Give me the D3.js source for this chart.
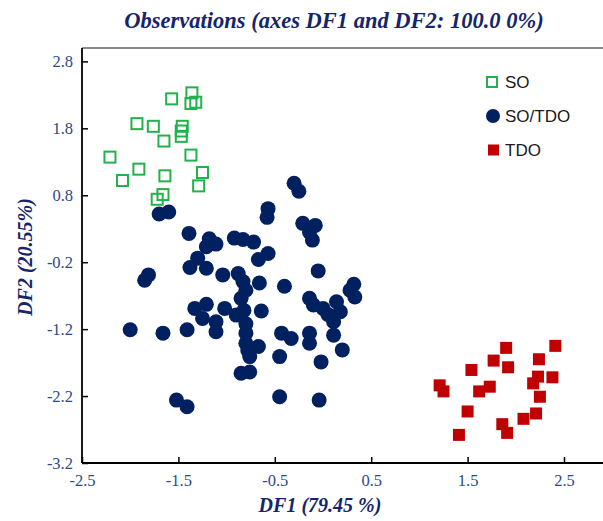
<!DOCTYPE html>
<html>
<head>
<meta charset="utf-8">
<script src="https://cdn.jsdelivr.net/npm/d3@7"></script>
<style>
  body { margin: 0; background: #fff; }
  svg { display: block; }
</style>
</head>
<body>
<svg id="chart" width="603" height="521"></svg>
<script>
// Group SO (hollow green squares)
var soX = [-1.57, -1.36, -1.32, -1.37, -1.93, -1.76, -1.46, -1.47, -1.47, -1.65,
           -2.21, -1.37, -1.91, -2.08, -1.64, -1.25, -1.29, -1.66, -1.72];
var soY = [2.24, 2.33, 2.19, 2.17, 1.87, 1.83, 1.83, 1.76, 1.68, 1.61,
           1.37, 1.40, 1.19, 1.02, 1.09, 1.14, 0.94, 0.81, 0.74];

// Group SO/TDO (navy circles)
var mixX = [-0.30, -0.25, -1.70, -1.60, -0.57, -0.58, -0.21, -0.08, -0.14, -0.11,
            -1.39, -1.18, -1.11, -1.21, -0.92, -0.83, -0.72, -0.57, -0.67, -1.30,
            -1.38, -1.21, -0.05, -1.81, -1.85, -1.04, -0.88, -0.83, -0.66, -0.40,
            -0.80, -0.85, 0.32, 0.28, 0.33, -0.14, -0.10, 0.00, 0.14, 0.18,
            -1.33, -1.21, -1.02, -0.90, -0.64, -1.25, -1.11, -1.11, -0.80, -0.80,
            0.11, 0.11, -2.00, -1.66, -1.41, -0.43, -0.33, -0.14, -0.14, -0.80,
            -0.67, -0.76, -0.45, -0.02, 0.20, -0.85, -0.76, -0.45, -0.04, -1.52,
            -1.41, -0.82, -0.78, 0.05];
var mixY = [0.98, 0.86, 0.52, 0.55, 0.60, 0.47, 0.38, 0.35, 0.25, 0.13,
            0.23, 0.15, 0.07, 0.03, 0.16, 0.14, 0.10, -0.07, -0.16, -0.14,
            -0.28, -0.29, -0.33, -0.39, -0.47, -0.39, -0.37, -0.49, -0.51, -0.56,
            -0.62, -0.74, -0.53, -0.62, -0.72, -0.74, -0.84, -0.89, -0.79, -0.94,
            -0.89, -0.83, -0.89, -0.99, -0.93, -1.04, -1.09, -1.24, -1.12, -1.26,
            -1.09, -1.29, -1.21, -1.26, -1.21, -1.26, -1.34, -1.26, -1.41, -1.41,
            -1.46, -1.61, -1.61, -1.69, -1.51, -1.86, -1.84, -2.21, -2.26, -2.26,
            -2.36, -0.92, -1.52, -0.98];

// Group TDO (filled red squares)
var tdoX = [1.90, 2.41, 1.77, 2.24, 1.54, 1.92, 2.23, 2.38, 2.18, 1.21,
            1.25, 1.73, 1.62, 2.25, 1.50, 2.21, 2.08, 1.86, 1.91, 1.41];
var tdoY = [-1.48, -1.45, -1.67, -1.65, -1.81, -1.77, -1.91, -1.92, -2.01, -2.04,
            -2.13, -2.06, -2.13, -2.21, -2.43, -2.46, -2.54, -2.62, -2.75, -2.78];

var xTicks = [-2.5, -1.5, -0.5, 0.5, 1.5, 2.5];
var yTicks = [-3.2, -2.2, -1.2, -0.2, 0.8, 1.8, 2.8];
var legendLabels = ["SO", "SO/TDO", "TDO"];

var svg = d3.select("#chart");

var plotLeft = 82, plotBottom = 463, plotTop = 48;

var x = d3.scaleLinear().domain([-2.5, 3.5]).range([plotLeft, plotLeft + 6 * 96.4]);
var y = d3.scaleLinear().domain([-3.2, 3.0]).range([plotBottom, plotTop]);

var serif = "'Liberation Serif', 'Times New Roman', serif";
var tickColor = "#2b4a86";
var titleColor = "#15256b";

// top frame line (grey)
svg.append("line")
    .attr("x1", plotLeft).attr("x2", 603)
    .attr("y1", plotTop).attr("y2", plotTop)
    .attr("stroke", "#8a8a8a").attr("stroke-width", 2);

var fmt = function(d) { return d.toFixed(1); };

var xAxis = svg.append("g")
    .attr("transform", "translate(0," + plotBottom + ")")
    .call(d3.axisBottom(x).tickValues(xTicks).tickFormat(fmt)
        .tickSizeInner(-6).tickSizeOuter(0).tickPadding(11));

var yAxis = svg.append("g")
    .attr("transform", "translate(" + plotLeft + ",0)")
    .call(d3.axisLeft(y).tickValues(yTicks).tickFormat(fmt)
        .tickSizeInner(-6).tickSizeOuter(0).tickPadding(9));

[xAxis, yAxis].forEach(function(g) {
    g.select(".domain").attr("stroke", "#000").attr("stroke-width", 1.8);
    g.selectAll(".tick line").attr("stroke", "#000").attr("stroke-width", 1.5);
    g.selectAll("text")
        .attr("fill", tickColor)
        .style("font-family", serif)
        .style("font-size", "16.5px");
});
// extend the x axis line to the right edge
xAxis.select(".domain").attr("d", "M" + plotLeft + ",0H640");
yAxis.select(".domain").attr("d", "M0," + plotTop + "V" + plotBottom);

// points
var mixData = mixX.map(function(v, i) { return {x: v, y: mixY[i]}; });
var soData = soX.map(function(v, i) { return {x: v, y: soY[i]}; });
var tdoData = tdoX.map(function(v, i) { return {x: v, y: tdoY[i]}; });

svg.append("g").selectAll("circle")
    .data(mixData).enter().append("circle")
    .attr("cx", function(d) { return x(d.x); })
    .attr("cy", function(d) { return y(d.y); })
    .attr("r", 7.5)
    .attr("fill", "#002060");

svg.append("g").selectAll("rect")
    .data(soData).enter().append("rect")
    .attr("x", function(d) { return x(d.x) - 5.5; })
    .attr("y", function(d) { return y(d.y) - 5.5; })
    .attr("width", 11).attr("height", 11)
    .attr("fill", "none")
    .attr("stroke", "#22b24c")
    .attr("stroke-width", 2);

svg.append("g").selectAll("rect")
    .data(tdoData).enter().append("rect")
    .attr("x", function(d) { return x(d.x) - 6; })
    .attr("y", function(d) { return y(d.y) - 6; })
    .attr("width", 12).attr("height", 12)
    .attr("fill", "#c00000");

// titles
svg.append("text")
    .attr("x", 334).attr("y", 28)
    .attr("text-anchor", "middle")
    .attr("fill", titleColor)
    .style("font-family", serif)
    .style("font-size", "22.5px")
    .style("font-weight", "bold")
    .style("font-style", "italic")
    .text("Observations (axes DF1 and DF2: 100.0 0%)");

svg.append("text")
    .attr("x", 320).attr("y", 512)
    .attr("text-anchor", "middle")
    .attr("fill", titleColor)
    .style("font-family", serif)
    .style("font-size", "20px")
    .style("font-weight", "bold")
    .style("font-style", "italic")
    .text("DF1 (79.45 %)");

svg.append("text")
    .attr("transform", "translate(32,257) rotate(-90)")
    .attr("text-anchor", "middle")
    .attr("fill", titleColor)
    .style("font-family", serif)
    .style("font-size", "20px")
    .style("font-weight", "bold")
    .style("font-style", "italic")
    .text("DF2 (20.55%)");

// legend
var legend = svg.append("g");
var legY = [82, 116, 150];
legend.append("rect")
    .attr("x", 487).attr("y", legY[0] - 5)
    .attr("width", 10).attr("height", 10)
    .attr("fill", "none").attr("stroke", "#22b24c").attr("stroke-width", 2);
legend.append("circle")
    .attr("cx", 493).attr("cy", legY[1]).attr("r", 7)
    .attr("fill", "#002060");
legend.append("rect")
    .attr("x", 488).attr("y", legY[2] - 5.5)
    .attr("width", 11).attr("height", 11)
    .attr("fill", "#c00000");
legend.selectAll("text.leg")
    .data(legendLabels).enter().append("text")
    .attr("class", "leg")
    .attr("x", 505)
    .attr("y", function(d, i) { return legY[i] + 6; })
    .attr("fill", "#1a1a1a")
    .style("font-family", "'Liberation Sans', Arial, sans-serif")
    .style("font-size", "17px")
    .text(function(d) { return d; });
</script>
</body>
</html>
